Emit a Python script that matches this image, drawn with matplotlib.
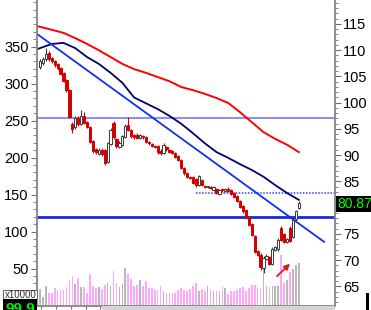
import numpy as np
import matplotlib
matplotlib.use("Agg")
import matplotlib.pyplot as plt
from matplotlib.patches import Rectangle

plt.rcParams["font.family"] = ["Liberation Sans", "DejaVu Sans"]

# daily candles (price, right axis)
opens = [
    106.8, 107.6, 108.3, 109.4, 108.5, 108.0, 107.3, 106.6, 105.6, 104.3,
    102.4, 95.9, 95.3, 97.1, 95.9, 97.4, 96.3, 95.4, 92.7, 91.1,
    90.3, 91.0, 91.0, 88.7, 92.2, 96.1, 93.0, 91.6, 92.0, 93.4,
    95.8, 94.8, 93.8, 93.9, 93.3, 93.7, 93.4, 92.6, 92.2, 91.8,
    91.8, 90.9, 90.4, 91.6, 91.0, 90.8, 90.5, 89.8, 89.0, 87.6,
    86.7, 85.9, 85.9, 85.4, 84.3, 85.2, 84.1, 83.9, 84.0, 83.4,
    83.5, 82.6, 83.5, 83.2, 83.6, 83.3, 82.8, 82.2, 81.3, 80.3,
    79.6, 78.3, 76.9, 74.6, 71.8, 71.0, 68.6, 70.3, 70.7, 69.2,
    72.0, 72.2, 76.2, 75.0, 73.5, 76.2, 74.4, 77.8, 80.0]
closes = [
    108.0, 108.4, 109.3, 108.3, 107.9, 107.2, 106.7, 105.5, 104.2, 102.4,
    97.2, 95.0, 97.0, 95.9, 97.4, 96.2, 95.4, 92.6, 90.8, 90.6,
    91.0, 90.3, 88.6, 92.3, 94.8, 93.4, 91.7, 92.4, 93.6, 95.6,
    94.9, 93.6, 93.4, 93.3, 93.8, 93.4, 92.5, 92.3, 91.8, 91.6,
    90.6, 90.4, 92.0, 91.1, 90.7, 90.5, 89.7, 89.1, 87.5, 86.6,
    85.8, 85.6, 84.7, 84.3, 86.0, 84.4, 83.9, 84.0, 83.8, 84.0,
    82.9, 83.3, 83.3, 83.5, 83.2, 82.7, 82.0, 81.2, 80.2, 79.3,
    78.2, 76.7, 74.8, 71.6, 71.0, 68.7, 70.5, 70.9, 69.3, 72.2,
    72.5, 73.9, 73.9, 73.5, 74.0, 73.6, 77.6, 79.3, 80.87]
highs = [
    108.3, 108.7, 110.5, 109.8, 108.8, 108.2, 107.6, 106.8, 105.8, 104.5,
    102.6, 96.3, 97.4, 97.4, 98.6, 98.3, 96.5, 95.6, 92.9, 91.4,
    91.3, 91.3, 91.2, 92.6, 95.2, 96.5, 93.3, 92.7, 93.9, 95.9,
    97.2, 95.0, 94.0, 94.2, 94.1, 93.9, 93.6, 92.8, 92.4, 92.0,
    92.0, 91.1, 92.3, 91.8, 91.2, 91.0, 90.7, 90.0, 89.2, 87.8,
    86.9, 86.1, 86.1, 85.6, 86.3, 85.4, 84.3, 84.2, 84.2, 84.2,
    83.7, 83.6, 83.8, 83.8, 83.9, 83.5, 83.0, 82.4, 81.5, 80.5,
    79.8, 78.5, 77.1, 74.8, 72.0, 71.3, 70.9, 71.2, 70.9, 72.6,
    72.8, 74.2, 76.6, 75.2, 74.3, 76.5, 77.9, 79.6, 81.2]
lows = [
    106.5, 107.2, 108.0, 108.0, 107.6, 106.9, 106.3, 105.2, 104.0, 102.1,
    97.0, 94.3, 95.0, 95.6, 95.7, 96.0, 95.2, 92.3, 90.5, 90.2,
    90.0, 89.9, 88.1, 88.5, 92.0, 93.1, 91.4, 91.4, 91.7, 93.2,
    94.6, 93.3, 93.0, 93.0, 93.0, 93.1, 92.3, 92.0, 91.5, 91.3,
    90.3, 90.1, 90.2, 90.9, 90.4, 90.3, 89.5, 88.9, 87.3, 86.3,
    85.6, 85.4, 84.5, 84.0, 84.1, 84.1, 83.7, 83.7, 83.6, 83.2,
    82.6, 82.4, 83.0, 83.0, 83.0, 82.5, 81.8, 81.0, 80.0, 79.0,
    77.9, 76.5, 74.6, 71.4, 70.8, 68.2, 67.5, 70.0, 69.0, 69.0,
    71.8, 71.8, 73.6, 73.3, 73.3, 73.4, 74.2, 77.5, 79.8]

# volume (x10000, left axis)
volume = [
    22, 11, 27, 17, 17, 23, 21, 21, 21, 25,
    35, 40, 29, 37, 25, 25, 17, 42, 26, 24,
    25, 22, 28, 30, 26, 47, 31, 25, 29, 51,
    42, 36, 26, 28, 35, 27, 33, 24, 23, 21,
    21, 27, 20, 17, 17, 17, 17, 21, 24, 21,
    20, 22, 27, 30, 20, 22, 20, 26, 21, 20,
    20, 20, 26, 24, 15, 20, 20, 21, 24, 25,
    20, 24, 28, 28, 25, 24, 60, 27, 25, 26,
    26, 26, 68, 30, 35, 45, 50, 55, 57]

# moving averages, read every 4 sessions
ma_day = [-1, 4, 8, 12, 16, 20, 24, 28, 32, 36, 40, 44,
          48, 52, 56, 60, 64, 68, 72, 76, 80, 84, 88]
ma_long = [114.6, 113.9, 113.3, 112.3, 111.2, 110.0, 108.7, 107.4, 106.4,
           105.7, 104.9, 104.1, 103.0, 102.4, 101.7, 100.9, 99.95, 98.2,
           96.3, 94.4, 93.1, 92.0, 90.6]
ma_short = [110.2, 111.2, 111.4, 110.4, 108.7, 107.4, 105.7, 103.8, 101.0,
            99.9, 98.8, 97.5, 96.0, 94.2, 92.3, 90.6, 89.5, 88.3, 87.2,
            85.9, 84.3, 82.8, 81.5]

# drawn lines
trend_day = [-1, 96.6]
trend_price = [113.1, 73.5]
resist_upper = 97.1
support = 78.2
dotted_level = 82.8
dotted_from = 53
arrow_from = (79.9, 66.6)
arrow_to = (85.7, 69.7)
last_price = "80.87"
price_ticks = [65, 70, 75, 80, 85, 90, 95, 100, 105, 110, 115]

W, H = 371, 310
fig = plt.figure(figsize=(W / 100, H / 100), dpi=100)
L, R, B, T = 37 / W, 335 / W, 4.5 / H, 1.0
ax_v = fig.add_axes([L, B, R - L, T - B])
ax = ax_v.twinx()

x = np.arange(len(closes))
up = np.array(closes) >= np.array(opens)

# volume bars
vol_cols = np.where(up, "#b8b8b8", "#ffa6ff")
ax_v.bar(x, volume, width=0.55, color=vol_cols, linewidth=0)
ax_v.set_ylim(0, 305.5 / 0.74)

# candles
edge = np.where(up, "#3a3a3a", "#d40000")
face = np.where(up, "white", "#d40000")
ax.vlines(x, lows, highs, colors=edge, linewidth=0.8, zorder=3)
body_lo = np.minimum(opens, closes)
body_h = np.maximum(np.abs(np.array(closes) - np.array(opens)), 0.15)
ax.bar(x, body_h, bottom=body_lo, width=0.75, color=face,
       edgecolor=edge, linewidth=0.7, zorder=4)

# averages and lines
ax.plot(ma_day, ma_long, color="#ff0000", lw=1.4, zorder=2)
ax.plot(ma_day, ma_short, color="#000070", lw=1.3, zorder=2)
ax.plot(trend_day, trend_price, color="#1030f0", lw=1.3, zorder=2)
ax.axhline(resist_upper, color="#8080ff", lw=1.3, zorder=1)
ax.axhline(support, color="#1a28d8", lw=2.0, zorder=2)
ax.plot([dotted_from, 101], [dotted_level, dotted_level], color="#3040ff",
        lw=1.1, dashes=(1, 1), zorder=1)
ax.annotate("", xy=arrow_to, xytext=arrow_from,
            arrowprops=dict(arrowstyle="-|>", color="#ee1010", lw=1.3,
                            mutation_scale=8))

ax.set_xlim(-1.02, 100.3)
ax.set_ylim(119.571 - 305.5 / 5.25, 119.571)

# axes styling
for a in (ax, ax_v):
    a.spines["top"].set_visible(False)
    for s in ("left", "right", "bottom"):
        a.spines[s].set_color("#8c8c8c")
        a.spines[s].set_linewidth(1.2)

ax_v.set_yticks(np.arange(50, 351, 50))
ax_v.set_yticks(np.arange(0, 411, 10), minor=True)
ax_v.tick_params(axis="y", which="major", labelsize=10.5, length=4,
                 color="#707070", pad=2)
ax_v.tick_params(axis="y", which="minor", length=3, color="#707070")
ax_v.set_xticks(np.arange(0.5, 100, 5))
ax_v.tick_params(axis="x", length=2, color="#707070", labelbottom=False)

# the 80 label sits under the last-price box
ax.set_yticks(price_ticks)
ax.set_yticklabels(["" if p == 80 else str(p) for p in price_ticks])
ax.set_yticks(np.arange(62, 120, 1), minor=True)
ax.tick_params(axis="y", which="major", labelsize=10.5, length=4,
               color="#707070", pad=2)
ax.tick_params(axis="y", which="minor", length=2, color="#707070")

# overlay boxes in pixel space
def px_rect(x0, y0, x1, y1, **kw):
    fig.patches.append(Rectangle((x0 / W, 1 - y1 / H), (x1 - x0) / W,
                                 (y1 - y0) / H, transform=fig.transFigure,
                                 **kw))

px_rect(102, 306, 335, 310, color="#d4d4d4", lw=0)
px_rect(3, 290, 37, 299, facecolor="white", edgecolor="#707070", lw=0.8)
fig.text(4.5 / W, 1 - 298 / H, "x10000", fontsize=7, color="#303030",
         va="baseline")
px_rect(3, 299, 37, 312, facecolor="black", lw=0)
fig.text(6 / W, 1 - 313 / H, "99.9", fontsize=11, color="#00ee00",
         va="baseline", fontweight="bold")
px_rect(336, 196, 372, 212, facecolor="black", lw=0)
fig.text(337.5 / W, 1 - 208.5 / H, last_price, fontsize=10, color="#00ff00",
         va="baseline")
px_rect(366, 293, 369, 310, facecolor="black", lw=0)

fig.savefig("out.png", dpi=100)
